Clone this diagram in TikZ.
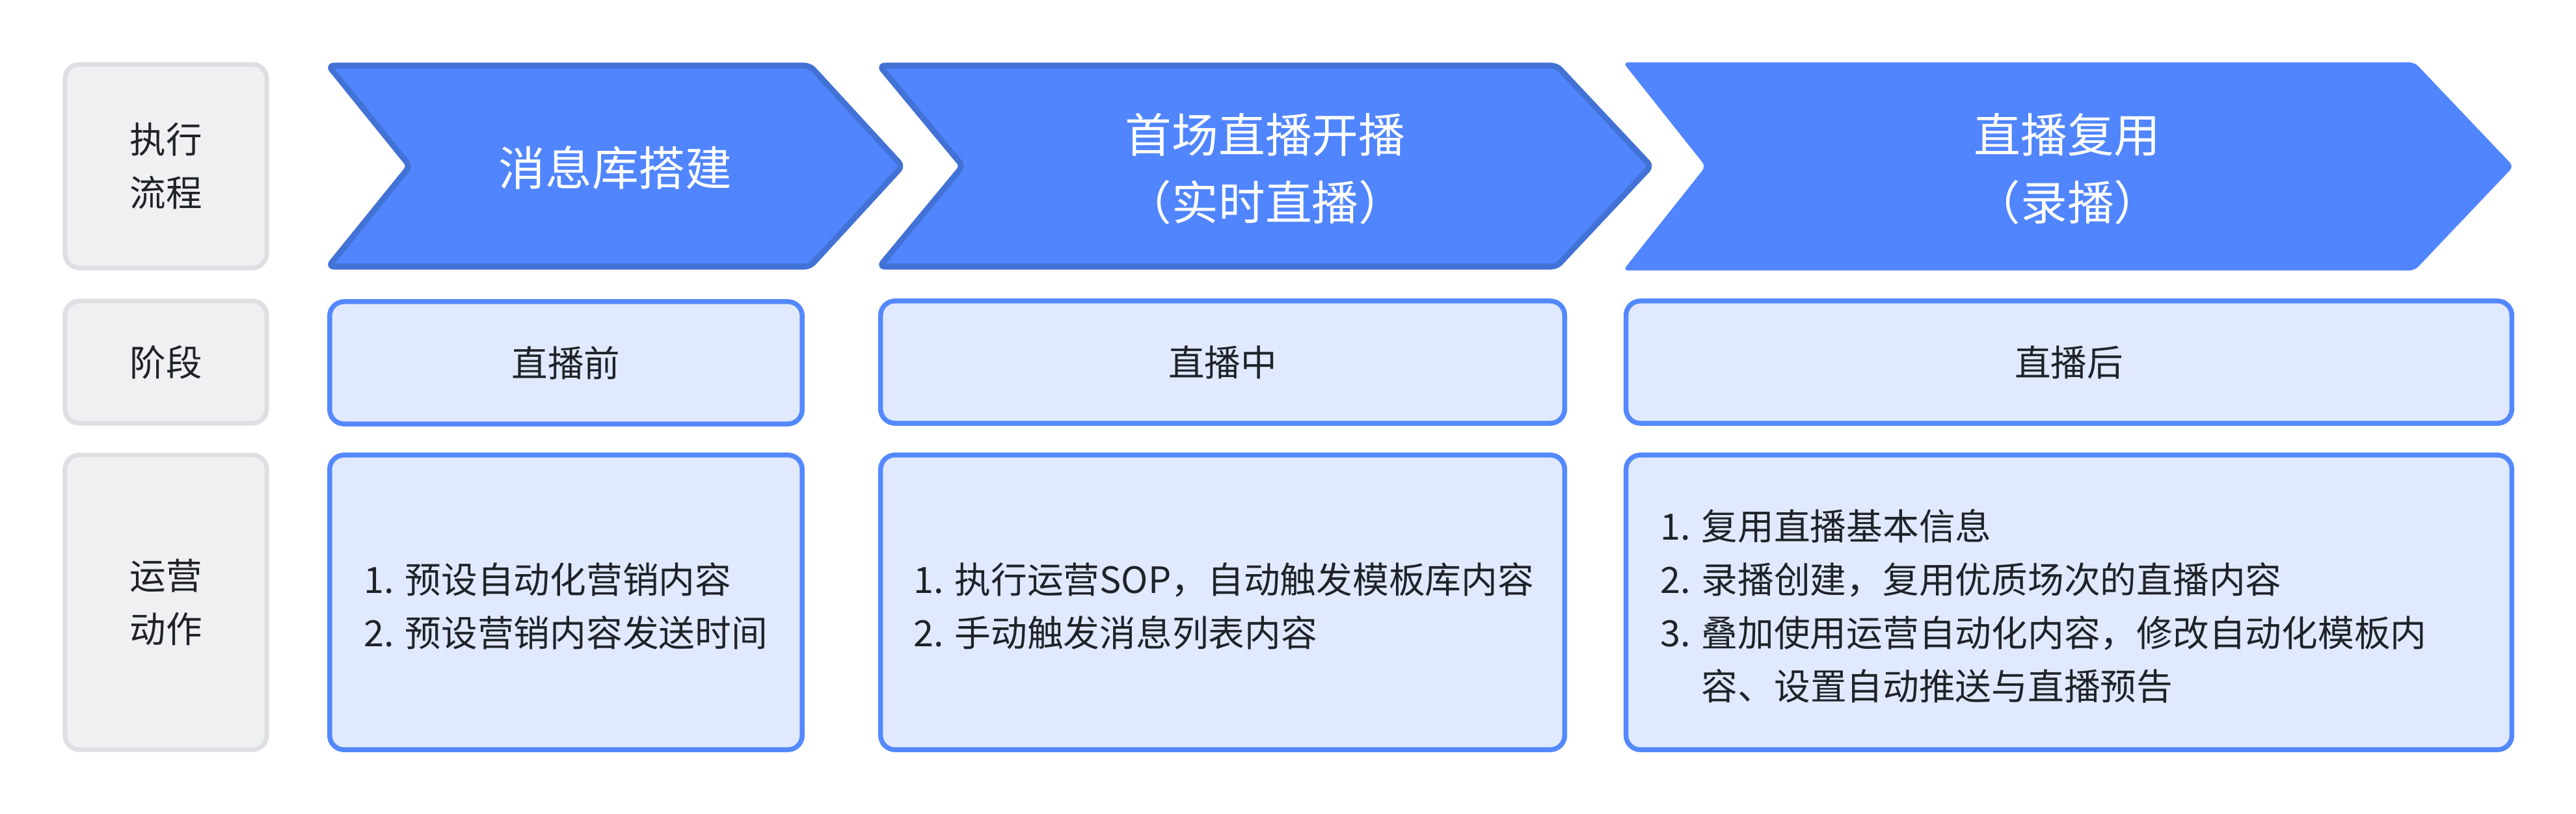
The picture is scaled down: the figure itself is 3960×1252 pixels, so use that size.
\documentclass[tikz,border=0pt]{standalone}
\usepackage{fontspec}
\setmainfont{Noto Sans CJK SC}
\definecolor{chevfill}{RGB}{80,133,253}
\definecolor{chevline}{RGB}{67,114,214}
\definecolor{boxfill}{RGB}{225,233,254}
\definecolor{boxline}{RGB}{84,137,253}
\definecolor{grayfill}{RGB}{239,240,242}
\definecolor{grayline}{RGB}{222,223,227}
\definecolor{txt}{RGB}{31,35,41}
\begin{document}
\begin{tikzpicture}[x=0.01cm,y=-0.01cm,
  chevstroked/.style={fill=chevfill,draw=chevline,line width=0.09cm,rounded corners=0.08cm,line join=round},
  chevplain/.style={fill=chevfill,rounded corners=0.08cm},
  titletext/.style={text=white,align=center,inner sep=0,font=\fontsize{20.4pt}{29.6pt}\selectfont},
  labelbox/.style={fill=grayfill,draw=grayline,line width=0.07cm,rounded corners=0.22cm,minimum width=3.10cm,text=txt,align=center,inner sep=0,font=\fontsize{15.8pt}{23.2pt}\selectfont},
  stagebox/.style={fill=boxfill,draw=boxline,line width=0.075cm,rounded corners=0.22cm,text=txt,align=center,inner sep=0,font=\fontsize{15.8pt}{23.2pt}\selectfont},
  bodytext/.style={text=txt,align=left,anchor=west,inner sep=0,font=\fontsize{15.85pt}{23.3pt}\selectfont}]
\useasboundingbox (0,0) rectangle (3960,1252);

% row 1: left label
\node[labelbox,minimum height=3.13cm] (lab1) at (255,255.5) {执行\\流程};
% chevrons
\draw[chevstroked] (505,101) -- (1245,101) -- (1387,255.5) -- (1245,410) -- (505,410) -- (630,255.5) -- cycle;
\draw[chevstroked] (1352,101) -- (2393,101) -- (2538,255.5) -- (2393,410) -- (1352,410) -- (1480,255.5) -- cycle;
\fill[chevplain] (2495,96) -- (3712,96) -- (3864,256) -- (3712,416) -- (2495,416) -- (2622,256) -- cycle;
\node[titletext] (ch1) at (946,258) {消息库搭建};
\node[titletext] (ch2) at (1945,260) {首场直播开播\\（实时直播）};
\node[titletext] (ch3) at (3178,260) {直播复用\\（录播）};

% row 2
\node[labelbox,minimum height=1.88cm] (lab2) at (255,557) {阶段};
\node[stagebox,minimum width=7.26cm,minimum height=1.88cm] (st1) at (870,558) {直播前};
\node[stagebox,minimum width=10.51cm,minimum height=1.88cm] (st2) at (1879.5,557) {直播中};
\node[stagebox,minimum width=13.61cm,minimum height=1.88cm] (st3) at (3180.5,557) {直播后};

% row 3
\node[labelbox,minimum height=4.53cm] (lab3) at (255,926.5) {运营\\动作};
\node[stagebox,minimum width=7.26cm,minimum height=4.53cm] (op1) at (870,926.5) {};
\node[stagebox,minimum width=10.51cm,minimum height=4.53cm] (op2) at (1879.5,926.5) {};
\node[stagebox,minimum width=13.61cm,minimum height=4.53cm] (op3) at (3180.5,926.5) {};
\node[bodytext] (tx1) at (559,932) {1. 预设自动化营销内容\\2. 预设营销内容发送时间};
\node[bodytext] (tx2) at (1404,932) {1. 执行运营SOP，自动触发模板库内容\\2. 手动触发消息列表内容};
\node[bodytext] (tx3) at (2552,932) {1. 复用直播基本信息\\2. 录播创建，复用优质场次的直播内容\\3. 叠加使用运营自动化内容，修改自动化模板内\\\phantom{3. }容、设置自动推送与直播预告};
\end{tikzpicture}
\end{document}
